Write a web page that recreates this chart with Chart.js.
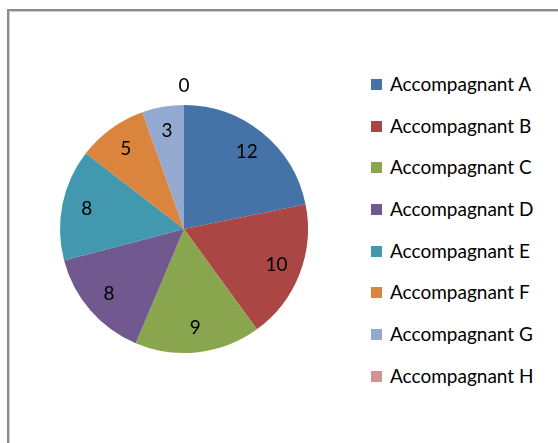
<!DOCTYPE html>
<html>
<head>
<meta charset="utf-8">
<script src="https://cdn.jsdelivr.net/npm/chart.js@4.4.0/dist/chart.umd.min.js"></script>
<style>
  html, body { margin: 0; padding: 0; background: #fff; }
  body { width: 558px; height: 443px; position: relative; overflow: hidden; font-family: Lato, "Open Sans", sans-serif; }
  #frame {
    position: absolute; left: 7px; top: 9px; width: 600px; height: 500px;
    border-top: 2px solid #8a8a8a; border-left: 2px solid #8a8a8a;
    box-shadow: inset 1px 1px 0 #d0d0d0;
  }
  #wrap { position: absolute; left: 0; top: 0; width: 370px; height: 443px; }
  #legend { position: absolute; left: 371px; top: 74px; margin: 0; padding: 0; list-style: none; }
  #legend li { height: 41.7px; position: relative; font-size: 19px; color: #000; white-space: nowrap; }
  #legend span.box { position: absolute; left: 0; top: 5px; width: 11px; height: 11px; }
  #legend span.txt { position: absolute; left: 19px; top: -2px; line-height: 24px; }
</style>
</head>
<body>
<div id="frame"></div>
<div id="wrap"><canvas id="pieChart"></canvas></div>
<ul id="legend"></ul>
<script>
// pie data
const categories = ['Accompagnant A', 'Accompagnant B', 'Accompagnant C', 'Accompagnant D',
                    'Accompagnant E', 'Accompagnant F', 'Accompagnant G', 'Accompagnant H'];
const counts = [12, 10, 9, 8, 8, 5, 3, 0];
const sliceColors = ['#4572A7', '#AA4643', '#89A54E', '#71588F', '#4198AF', '#DB843D', '#93A9CF', '#D19392'];

// draws the value on each slice (zero values go outside the pie)
const sliceLabels = {
    id: 'sliceLabels',
    afterDatasetsDraw(chart) {
        const ctx = chart.ctx;
        const meta = chart.getDatasetMeta(0);
        ctx.save();
        ctx.font = '19px Lato, "Open Sans", sans-serif';
        ctx.fillStyle = '#000';
        ctx.textAlign = 'center';
        ctx.textBaseline = 'middle';
        meta.data.forEach((arc, i) => {
            const p = arc.getProps(['x', 'y', 'startAngle', 'endAngle', 'outerRadius'], true);
            const mid = (p.startAngle + p.endAngle) / 2;
            const dist = counts[i] === 0 ? p.outerRadius + 19 : p.outerRadius * 0.8;
            ctx.fillText(String(counts[i]), p.x + Math.cos(mid) * dist, p.y + Math.sin(mid) * dist);
        });
        ctx.restore();
    }
};

function buildLegend(chart) {
    const legend = document.getElementById('legend');
    chart.data.labels.forEach((name, i) => {
        const li = document.createElement('li');
        const box = document.createElement('span');
        box.className = 'box';
        box.style.background = chart.data.datasets[0].backgroundColor[i];
        const txt = document.createElement('span');
        txt.className = 'txt';
        txt.textContent = name;
        li.appendChild(box);
        li.appendChild(txt);
        legend.appendChild(li);
    });
}

function initChart() {
    const ctx = document.getElementById('pieChart').getContext('2d');
    const chart = new Chart(ctx, {
        type: 'pie',
        data: {
            labels: categories,
            datasets: [{
                data: counts,
                backgroundColor: sliceColors,
                borderWidth: 0
            }]
        },
        options: {
            responsive: true,
            maintainAspectRatio: false,
            animation: false,
            layout: { padding: { left: 60, right: 62, top: 105, bottom: 90 } },
            plugins: {
                legend: { display: false },
                tooltip: { enabled: false }
            }
        },
        plugins: [sliceLabels]
    });
    buildLegend(chart);
}

window.onload = initChart;
</script>
</body>
</html>
